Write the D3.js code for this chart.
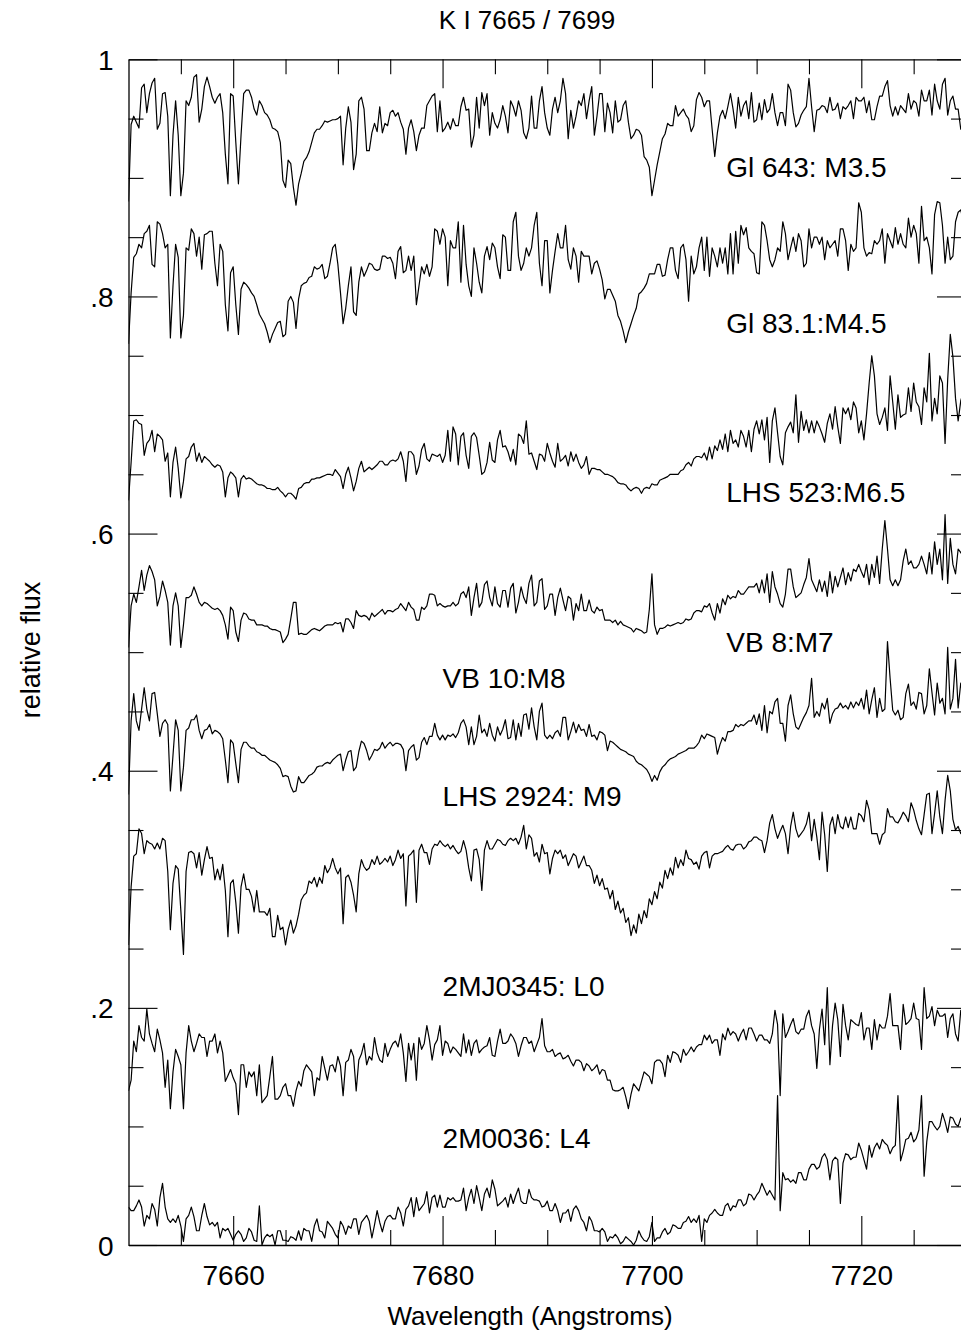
<!DOCTYPE html>
<html>
<head>
<meta charset="utf-8">
<script src="https://cdn.jsdelivr.net/npm/d3@7/dist/d3.min.js"></script>
<style>
  html, body { margin: 0; padding: 0; background: #fff; }
  svg { display: block; }
  text { font-family: "Liberation Sans", Arial, Helvetica, sans-serif; fill: #000; }
</style>
</head>
<body>
<svg id="chart" width="961" height="1337"></svg>
<script>
// ---------------- data (relative flux) ----------------
const chartTitle = "K I 7665 / 7699";
const xTitle = "Wavelength (Angstroms)";
const yTitle = "relative flux";
const xDomain = [7650, 7730];
const yDomain = [0, 1];
const xMajorTicks = [7660, 7680, 7700, 7720];
const yMajorTicks = [0, 0.2, 0.4, 0.6, 0.8, 1];
const yTickLabels = ["0", ".2", ".4", ".6", ".8", "1"];

// common wavelength grid: 7650 to 7730 Angstrom in 0.25 Angstrom steps
const waveStart = 7650;
const waveStep = 0.25;

const gl643 = [
.880,.945,.952,.947,.942,.976,.979,.955,.971,.980,
.984,.941,.946,.971,.972,.952,.885,.936,.965,.936,
.885,.904,.965,.961,.968,.985,.987,.947,.958,.977,
.985,.977,.968,.963,.968,.971,.955,.920,.895,.971,
.969,.930,.895,.936,.971,.974,.974,.968,.958,.953,
.965,.961,.955,.953,.949,.942,.941,.939,.930,.898,
.892,.915,.912,.892,.877,.895,.904,.914,.917,.922,
.930,.938,.941,.941,.944,.948,.947,.948,.949,.949,
.950,.952,.911,.942,.960,.947,.907,.920,.965,.968,
.958,.923,.923,.938,.946,.939,.960,.938,.946,.944,
.955,.957,.952,.955,.947,.941,.920,.942,.949,.939,
.923,.936,.942,.942,.961,.965,.969,.971,.939,.965,
.939,.942,.947,.941,.950,.944,.944,.960,.968,.957,
.958,.926,.936,.968,.942,.972,.961,.971,.936,.955,
.946,.942,.949,.961,.952,.938,.965,.960,.952,.965,
.957,.938,.933,.942,.969,.942,.942,.965,.977,.955,
.942,.936,.958,.968,.955,.965,.984,.971,.933,.957,
.942,.952,.965,.961,.971,.950,.965,.977,.936,.952,
.971,.971,.939,.963,.955,.938,.965,.947,.949,.961,
.965,.947,.933,.936,.941,.940,.936,.918,.915,.909,
.885,.898,.911,.922,.933,.937,.946,.944,.944,.961,
.952,.955,.958,.953,.950,.939,.944,.966,.972,.968,
.960,.965,.965,.941,.918,.938,.952,.957,.950,.960,
.971,.958,.942,.968,.952,.961,.965,.950,.972,.947,
.949,.963,.949,.966,.955,.958,.971,.955,.944,.955,
.955,.944,.979,.974,.955,.943,.946,.953,.957,.960,
.984,.960,.939,.957,.958,.961,.960,.955,.968,.957,
.958,.963,.950,.960,.958,.961,.965,.950,.968,.965,
.965,.968,.955,.965,.949,.949,.960,.969,.969,.977,
.982,.961,.952,.960,.953,.961,.958,.955,.971,.958,
.965,.963,.952,.974,.965,.965,.974,.953,.979,.965,
.958,.979,.984,.953,.965,.969,.958,.958,.941,.945,
.952];

const gl831 = [
.760,.803,.833,.836,.844,.841,.853,.855,.860,.827,
.825,.863,.861,.853,.841,.844,.765,.809,.844,.833,
.765,.784,.841,.839,.857,.853,.834,.850,.823,.852,
.853,.855,.855,.828,.809,.844,.838,.793,.771,.820,
.825,.793,.768,.806,.812,.810,.807,.803,.800,.793,
.785,.781,.777,.770,.761,.768,.773,.778,.779,.766,
.768,.796,.800,.795,.773,.798,.809,.811,.812,.816,
.817,.825,.823,.824,.827,.815,.817,.828,.841,.844,
.827,.803,.777,.790,.809,.825,.787,.784,.812,.825,
.817,.822,.828,.827,.823,.822,.823,.834,.834,.832,
.833,.828,.815,.838,.842,.820,.822,.834,.822,.834,
.793,.809,.825,.819,.827,.817,.825,.857,.855,.844,
.857,.850,.809,.847,.841,.841,.863,.812,.860,.827,
.809,.800,.841,.828,.812,.803,.834,.842,.831,.845,
.841,.825,.815,.852,.850,.822,.822,.863,.871,.834,
.822,.828,.841,.834,.841,.860,.871,.828,.809,.847,
.847,.803,.822,.838,.853,.841,.841,.860,.831,.823,
.841,.834,.812,.838,.834,.834,.834,.819,.828,.830,
.823,.814,.798,.806,.806,.801,.796,.784,.779,.771,
.761,.770,.777,.784,.790,.802,.804,.807,.811,.819,
.819,.819,.827,.827,.817,.818,.831,.841,.841,.822,
.815,.841,.844,.831,.796,.834,.819,.825,.841,.850,
.822,.850,.817,.841,.834,.825,.841,.828,.841,.819,
.853,.819,.855,.828,.860,.852,.858,.841,.838,.836,
.820,.819,.863,.860,.847,.831,.825,.831,.841,.838,
.863,.853,.831,.841,.850,.838,.853,.847,.825,.828,
.857,.841,.850,.850,.844,.850,.831,.847,.841,.844,
.847,.834,.857,.857,.847,.822,.844,.838,.841,.879,
.871,.841,.834,.837,.836,.847,.844,.847,.857,.828,
.853,.847,.841,.858,.844,.853,.844,.841,.866,.850,
.860,.853,.828,.876,.847,.850,.841,.819,.869,.880,
.879,.860,.828,.850,.831,.834,.863,.871,.873,.863,
.857];

const lhs523 = [
.628,.660,.695,.696,.693,.692,.666,.676,.679,.687,
.669,.684,.682,.679,.661,.668,.631,.660,.673,.655,
.630,.644,.663,.665,.673,.676,.661,.668,.660,.665,
.663,.661,.658,.656,.658,.657,.652,.631,.647,.652,
.650,.647,.631,.646,.649,.646,.647,.646,.644,.642,
.641,.641,.640,.638,.638,.637,.637,.639,.636,.634,
.631,.634,.634,.632,.629,.638,.639,.642,.643,.643,
.646,.646,.647,.647,.648,.649,.650,.650,.649,.654,
.651,.648,.638,.650,.656,.647,.636,.644,.655,.661,
.652,.654,.656,.654,.656,.658,.661,.661,.658,.658,
.661,.662,.661,.663,.669,.661,.644,.669,.669,.666,
.650,.657,.671,.676,.663,.661,.667,.666,.665,.667,
.660,.666,.687,.661,.690,.684,.658,.682,.685,.666,
.655,.682,.685,.681,.666,.650,.652,.660,.677,.662,
.660,.679,.687,.673,.674,.669,.661,.671,.658,.684,
.682,.676,.695,.667,.668,.661,.654,.667,.666,.661,
.676,.668,.661,.656,.676,.661,.663,.666,.657,.669,
.661,.667,.660,.655,.658,.665,.650,.655,.655,.654,
.654,.652,.650,.650,.649,.648,.646,.643,.642,.642,
.641,.638,.636,.638,.639,.638,.634,.638,.639,.638,
.642,.641,.641,.645,.646,.647,.648,.650,.650,.650,
.650,.653,.654,.658,.660,.657,.663,.665,.665,.664,
.668,.662,.673,.663,.674,.670,.679,.671,.684,.669,
.687,.676,.679,.673,.687,.682,.673,.687,.669,.688,
.695,.684,.696,.679,.698,.660,.695,.706,.685,.665,
.658,.685,.690,.694,.685,.717,.677,.703,.687,.696,
.685,.695,.685,.695,.690,.684,.677,.693,.701,.688,
.707,.690,.676,.706,.701,.706,.696,.711,.706,.685,
.695,.679,.701,.727,.750,.733,.701,.692,.698,.706,
.687,.733,.711,.688,.717,.698,.700,.701,.723,.703,
.727,.711,.707,.692,.723,.711,.752,.695,.714,.701,
.733,.727,.676,.730,.768,.749,.714,.695,.712,.720,
.730];

const vb8 = [
.504,.539,.549,.542,.555,.569,.552,.565,.573,.568,
.561,.539,.547,.560,.552,.542,.506,.539,.550,.539,
.504,.523,.546,.546,.548,.555,.549,.542,.539,.542,
.541,.539,.537,.536,.537,.535,.531,.523,.511,.538,
.535,.517,.509,.527,.533,.532,.528,.527,.527,.523,
.523,.523,.522,.522,.520,.519,.519,.518,.517,.508,
.511,.515,.528,.542,.542,.515,.516,.515,.515,.517,
.519,.520,.519,.518,.520,.522,.523,.523,.523,.525,
.524,.525,.517,.528,.528,.525,.520,.535,.531,.530,
.531,.530,.527,.533,.530,.532,.534,.536,.532,.535,
.535,.534,.536,.537,.541,.538,.535,.542,.538,.536,
.527,.527,.538,.536,.539,.549,.549,.548,.539,.541,
.539,.538,.539,.539,.542,.539,.541,.549,.551,.546,
.555,.531,.546,.558,.538,.542,.557,.560,.546,.539,
.555,.541,.538,.552,.552,.538,.554,.558,.533,.542,
.555,.546,.541,.558,.565,.539,.542,.560,.562,.536,
.539,.549,.549,.531,.546,.554,.544,.535,.547,.545,
.527,.541,.535,.549,.535,.535,.544,.535,.533,.538,
.535,.536,.527,.527,.527,.525,.527,.523,.526,.523,
.522,.521,.520,.517,.520,.519,.518,.516,.517,.536,
.566,.523,.515,.520,.520,.521,.523,.522,.523,.524,
.525,.524,.525,.528,.527,.528,.533,.535,.535,.534,
.539,.538,.541,.533,.527,.541,.533,.545,.540,.548,
.545,.547,.546,.552,.549,.549,.552,.555,.555,.555,
.558,.550,.561,.550,.566,.542,.568,.555,.549,.541,
.538,.549,.570,.570,.555,.546,.548,.550,.557,.563,
.579,.561,.556,.551,.561,.551,.560,.547,.568,.550,
.564,.555,.563,.571,.557,.567,.560,.570,.568,.574,
.568,.563,.574,.557,.574,.563,.581,.558,.587,.611,
.587,.561,.556,.561,.556,.561,.577,.587,.574,.577,
.571,.571,.574,.581,.574,.566,.584,.566,.593,.574,
.587,.561,.616,.558,.596,.574,.566,.587,.584,.581,
.587];

const vb10 = [
.380,.442,.465,.442,.434,.452,.470,.452,.442,.465,
.466,.448,.429,.440,.443,.439,.383,.413,.443,.434,
.383,.403,.434,.436,.443,.443,.447,.434,.427,.434,
.435,.439,.431,.434,.433,.431,.427,.409,.390,.426,
.423,.406,.390,.418,.424,.424,.421,.419,.419,.416,
.415,.413,.413,.411,.409,.408,.407,.405,.402,.395,
.396,.395,.387,.382,.383,.395,.390,.390,.393,.396,
.397,.399,.403,.404,.404,.406,.407,.406,.409,.411,
.413,.414,.400,.409,.416,.417,.400,.403,.416,.425,
.423,.417,.409,.413,.418,.417,.419,.424,.419,.422,
.424,.421,.423,.423,.422,.418,.400,.417,.420,.422,
.409,.411,.424,.428,.422,.429,.429,.440,.430,.426,
.430,.426,.430,.429,.431,.428,.432,.440,.443,.437,
.422,.437,.422,.429,.447,.432,.435,.429,.440,.430,
.425,.437,.430,.435,.443,.427,.428,.443,.426,.440,
.429,.447,.448,.435,.453,.437,.426,.450,.457,.430,
.427,.430,.427,.432,.434,.429,.445,.445,.426,.433,
.441,.432,.439,.434,.435,.429,.439,.429,.430,.426,
.433,.432,.430,.417,.425,.424,.422,.420,.418,.417,
.416,.414,.413,.412,.408,.406,.405,.403,.401,.397,
.391,.396,.392,.399,.403,.405,.408,.410,.411,.412,
.414,.415,.416,.417,.419,.419,.419,.421,.424,.430,
.427,.431,.430,.429,.428,.414,.422,.428,.425,.433,
.433,.434,.439,.437,.439,.438,.440,.442,.442,.447,
.439,.448,.434,.455,.432,.450,.448,.458,.461,.440,
.440,.425,.455,.464,.448,.437,.435,.440,.445,.449,
.455,.478,.445,.450,.446,.457,.452,.461,.440,.448,
.452,.453,.457,.453,.455,.452,.458,.453,.458,.455,
.461,.452,.468,.448,.460,.470,.445,.461,.450,.452,
.509,.478,.451,.447,.451,.443,.445,.465,.473,.455,
.458,.452,.466,.465,.448,.455,.486,.466,.447,.474,
.457,.461,.448,.504,.452,.461,.494,.453,.474,.461,
.455];

const lhs2924 = [
.253,.302,.328,.330,.351,.347,.330,.341,.339,.338,
.334,.339,.334,.343,.341,.315,.266,.305,.320,.317,
.282,.245,.315,.331,.332,.330,.318,.331,.312,.325,
.336,.326,.327,.308,.317,.308,.321,.299,.260,.305,
.308,.289,.263,.302,.313,.300,.300,.294,.281,.299,
.281,.281,.281,.278,.284,.260,.260,.278,.266,.268,
.253,.266,.274,.263,.269,.279,.291,.295,.297,.307,
.305,.310,.302,.310,.305,.320,.314,.318,.326,.318,
.313,.318,.271,.310,.312,.306,.295,.281,.313,.325,
.319,.316,.318,.325,.321,.328,.321,.323,.326,.323,
.328,.320,.325,.333,.326,.330,.286,.328,.330,.333,
.289,.333,.338,.331,.331,.321,.334,.338,.337,.341,
.338,.336,.338,.334,.337,.333,.330,.332,.341,.333,
.318,.307,.333,.334,.325,.299,.333,.341,.334,.334,
.338,.342,.341,.338,.337,.341,.343,.341,.343,.338,
.344,.354,.334,.346,.343,.328,.331,.323,.338,.330,
.331,.313,.326,.333,.330,.333,.326,.329,.320,.325,
.330,.328,.318,.323,.328,.320,.320,.316,.305,.312,
.303,.309,.300,.301,.292,.299,.283,.290,.280,.284,
.272,.276,.261,.270,.263,.279,.271,.282,.276,.292,
.287,.298,.292,.306,.301,.316,.309,.318,.312,.327,
.318,.325,.320,.333,.326,.325,.321,.323,.317,.328,
.331,.332,.318,.328,.330,.330,.331,.332,.335,.337,
.334,.333,.337,.338,.338,.334,.336,.340,.341,.344,
.344,.342,.341,.331,.341,.356,.363,.351,.343,.349,
.354,.347,.330,.353,.365,.351,.344,.347,.350,.355,
.365,.341,.359,.344,.325,.365,.346,.315,.354,.361,
.347,.363,.353,.351,.361,.352,.361,.351,.351,.364,
.362,.357,.375,.367,.347,.347,.347,.338,.346,.348,
.368,.361,.361,.357,.356,.360,.365,.362,.357,.373,
.367,.358,.351,.346,.363,.380,.381,.347,.364,.383,
.361,.347,.375,.396,.383,.359,.350,.353,.347,.351,
.352];

const j0345 = [
.130,.139,.172,.163,.185,.175,.172,.199,.178,.170,
.163,.182,.173,.162,.133,.156,.115,.146,.165,.159,
.152,.115,.162,.185,.172,.163,.170,.178,.175,.175,
.159,.172,.172,.178,.162,.172,.162,.138,.143,.148,
.141,.136,.110,.152,.152,.133,.146,.142,.146,.126,
.152,.120,.123,.126,.142,.159,.123,.123,.126,.133,
.136,.126,.126,.117,.130,.138,.134,.147,.152,.149,
.146,.126,.141,.139,.159,.149,.139,.151,.152,.146,
.159,.151,.126,.154,.156,.165,.159,.130,.156,.161,
.170,.152,.159,.156,.175,.162,.156,.154,.170,.159,
.165,.170,.172,.167,.178,.162,.138,.170,.156,.170,
.139,.175,.165,.170,.185,.173,.156,.169,.173,.185,
.160,.172,.170,.162,.167,.165,.162,.159,.178,.162,
.173,.160,.170,.173,.162,.165,.167,.168,.175,.160,
.159,.172,.182,.170,.170,.172,.178,.175,.170,.159,
.168,.175,.175,.170,.172,.163,.169,.175,.191,.168,
.163,.163,.165,.159,.161,.162,.157,.158,.160,.155,
.151,.156,.156,.154,.147,.153,.151,.147,.149,.152,
.144,.148,.147,.139,.139,.131,.130,.130,.131,.133,
.125,.115,.127,.136,.133,.130,.138,.146,.144,.142,
.136,.154,.156,.156,.153,.142,.160,.154,.163,.162,
.160,.154,.165,.160,.163,.167,.163,.167,.169,.169,
.177,.173,.177,.170,.173,.173,.160,.178,.173,.183,
.177,.180,.178,.172,.178,.182,.173,.183,.183,.178,
.172,.177,.177,.173,.173,.170,.178,.198,.186,.126,
.195,.175,.180,.186,.191,.180,.178,.182,.182,.193,
.198,.185,.178,.149,.182,.199,.169,.217,.152,.185,
.204,.190,.159,.203,.185,.173,.190,.188,.186,.185,
.196,.173,.183,.183,.165,.190,.173,.186,.183,.183,
.193,.212,.185,.185,.185,.165,.203,.186,.188,.191,
.204,.191,.190,.165,.217,.191,.193,.201,.185,.198,
.193,.193,.195,.175,.191,.195,.178,.172,.198,.188,
.191];

const m0036 = [
.032,.029,.029,.033,.038,.032,.016,.025,.022,.035,
.030,.016,.040,.052,.032,.022,.019,.022,.019,.025,
.016,.003,.022,.025,.032,.024,.012,.012,.025,.035,
.024,.017,.019,.016,.019,.006,.014,.012,.014,.009,
.004,.009,.012,.009,.003,.006,.014,.011,.004,.003,
.033,.000,.006,.009,.007,.009,.000,.012,.012,.004,
.004,.003,.007,.006,.004,.012,.004,.014,.012,.012,
.003,.016,.022,.012,.011,.006,.020,.017,.014,.009,
.006,.020,.016,.009,.016,.014,.022,.022,.009,.019,
.022,.025,.020,.006,.017,.029,.019,.011,.020,.024,
.025,.022,.022,.032,.027,.016,.030,.033,.040,.024,
.040,.029,.032,.035,.045,.027,.040,.042,.032,.042,
.032,.032,.040,.038,.040,.037,.037,.038,.048,.029,
.040,.047,.035,.050,.040,.029,.043,.048,.040,.055,
.047,.033,.035,.037,.040,.032,.043,.035,.042,.048,
.037,.035,.035,.047,.040,.038,.038,.037,.032,.033,
.037,.029,.029,.035,.029,.019,.027,.027,.030,.020,
.030,.033,.029,.022,.019,.012,.024,.020,.012,.012,
.011,.014,.011,.003,.007,.006,.009,.006,.001,.003,
.007,.005,.003,.000,.004,.012,.007,.004,.003,.007,
.019,.003,.006,.006,.011,.014,.009,.011,.017,.016,
.014,.014,.019,.020,.024,.019,.022,.019,.025,.003,
.022,.019,.025,.027,.030,.027,.025,.025,.033,.035,
.029,.033,.032,.038,.038,.033,.035,.043,.042,.038,
.042,.045,.052,.047,.042,.046,.042,.038,.126,.029,
.061,.055,.056,.053,.055,.052,.061,.061,.055,.055,
.064,.068,.068,.064,.066,.074,.077,.072,.055,.071,
.074,.072,.035,.069,.077,.076,.072,.074,.074,.086,
.080,.072,.064,.084,.074,.082,.086,.081,.089,.086,
.084,.077,.082,.084,.126,.071,.079,.089,.090,.095,
.087,.090,.097,.126,.058,.087,.104,.104,.100,.097,
.100,.111,.104,.095,.108,.107,.102,.100,.107,.105,
.104];

const seriesNames = ["Gl 643: M3.5", "Gl 83.1:M4.5", "LHS 523:M6.5", "VB 8:M7",
                     "VB 10:M8", "LHS 2924: M9", "2MJ0345: L0", "2M0036: L4"];
const seriesValues = [gl643, gl831, lhs523, vb8, vb10, lhs2924, j0345, m0036];
// label anchor positions in data units (wavelength, flux)
const labelWave = [7707.1, 7707.1, 7707.1, 7707.1, 7680.0, 7680.0, 7680.0, 7680.0];
const labelFlux = [0.901, 0.769, 0.627, 0.500, 0.470, 0.370, 0.210, 0.082];

// ---------------- drawing ----------------
const svg = d3.select("#chart");
const frame = { left: 128.5, top: 59.3, right: 966, bottom: 1245 };
const x = d3.scaleLinear().domain(xDomain).range([frame.left, frame.right]);
const y = d3.scaleLinear().domain(yDomain).range([frame.bottom, frame.top]);

svg.append("defs").append("clipPath").attr("id", "plotclip")
  .append("rect").attr("x", frame.left).attr("y", frame.top)
  .attr("width", frame.right - frame.left).attr("height", frame.bottom - frame.top);

const minorY = d3.range(1, 20).map(k => k * 0.05).filter((v, k) => (k + 1) % 4 !== 0);
const minorX = d3.range(7655, 7730, 5).filter(v => v % 20 !== 0);

function styleAxis(g) {
  g.selectAll("path.domain").attr("stroke", "#000").attr("stroke-width", 1.3);
  g.selectAll(".tick line").attr("stroke", "#000").attr("stroke-width", 1.1);
  g.selectAll(".tick text").attr("font-size", 28)
    .attr("font-family", "Liberation Sans, Arial, sans-serif").attr("fill", "#000");
}

// left axis
svg.append("g").attr("transform", `translate(${frame.left},0)`)
  .call(d3.axisLeft(y).tickValues(yMajorTicks).tickSize(-29).tickSizeOuter(0).tickPadding(15)
    .tickFormat((d, i) => yTickLabels[i]))
  .call(styleAxis)
  .call(g => g.selectAll(".tick text").attr("dy", "0.36em"));
svg.append("g").attr("transform", `translate(${frame.left},0)`)
  .call(d3.axisLeft(y).tickValues(minorY).tickSize(-15).tickSizeOuter(0).tickFormat(""))
  .call(styleAxis).call(g => g.select("path.domain").remove());

// right axis
svg.append("g").attr("transform", `translate(${frame.right},0)`)
  .call(d3.axisRight(y).tickValues(yMajorTicks).tickSize(-29).tickSizeOuter(0).tickFormat(""))
  .call(styleAxis);
svg.append("g").attr("transform", `translate(${frame.right},0)`)
  .call(d3.axisRight(y).tickValues(minorY).tickSize(-15).tickSizeOuter(0).tickFormat(""))
  .call(styleAxis).call(g => g.select("path.domain").remove());

// bottom axis
svg.append("g").attr("transform", `translate(0,${frame.bottom})`)
  .call(d3.axisBottom(x).tickValues(xMajorTicks).tickSize(-29).tickSizeOuter(0).tickPadding(20)
    .tickFormat(d3.format("d")))
  .call(styleAxis);
svg.append("g").attr("transform", `translate(0,${frame.bottom})`)
  .call(d3.axisBottom(x).tickValues(minorX).tickSize(-15).tickSizeOuter(0).tickFormat(""))
  .call(styleAxis).call(g => g.select("path.domain").remove());

// top axis
svg.append("g").attr("transform", `translate(0,${frame.top})`)
  .call(d3.axisTop(x).tickValues(xMajorTicks).tickSize(-29).tickSizeOuter(0).tickFormat(""))
  .call(styleAxis);
svg.append("g").attr("transform", `translate(0,${frame.top})`)
  .call(d3.axisTop(x).tickValues(minorX).tickSize(-15).tickSizeOuter(0).tickFormat(""))
  .call(styleAxis).call(g => g.select("path.domain").remove());

// spectra
const line = d3.line().x(d => x(d[0])).y(d => y(d[1]));
const plot = svg.append("g").attr("clip-path", "url(#plotclip)");
seriesValues.forEach(vals => {
  const pts = vals.map((v, i) => [waveStart + i * waveStep, v]);
  plot.append("path").datum(pts)
    .attr("fill", "none").attr("stroke", "#000").attr("stroke-width", 1.2)
    .attr("stroke-linejoin", "round").attr("d", line);
});

// spectrum labels
seriesNames.forEach((name, k) => {
  svg.append("text").attr("x", x(labelWave[k])).attr("y", y(labelFlux[k]))
    .attr("font-size", 28).text(name);
});

// titles
svg.append("text").attr("x", 527).attr("y", 29).attr("text-anchor", "middle")
  .attr("font-size", 26).text(chartTitle);
svg.append("text").attr("x", 530).attr("y", 1325).attr("text-anchor", "middle")
  .attr("font-size", 26).text(xTitle);
svg.append("text").attr("transform", "translate(40,650) rotate(-90)").attr("text-anchor", "middle")
  .attr("font-size", 27).text(yTitle);
</script>
</body>
</html>
